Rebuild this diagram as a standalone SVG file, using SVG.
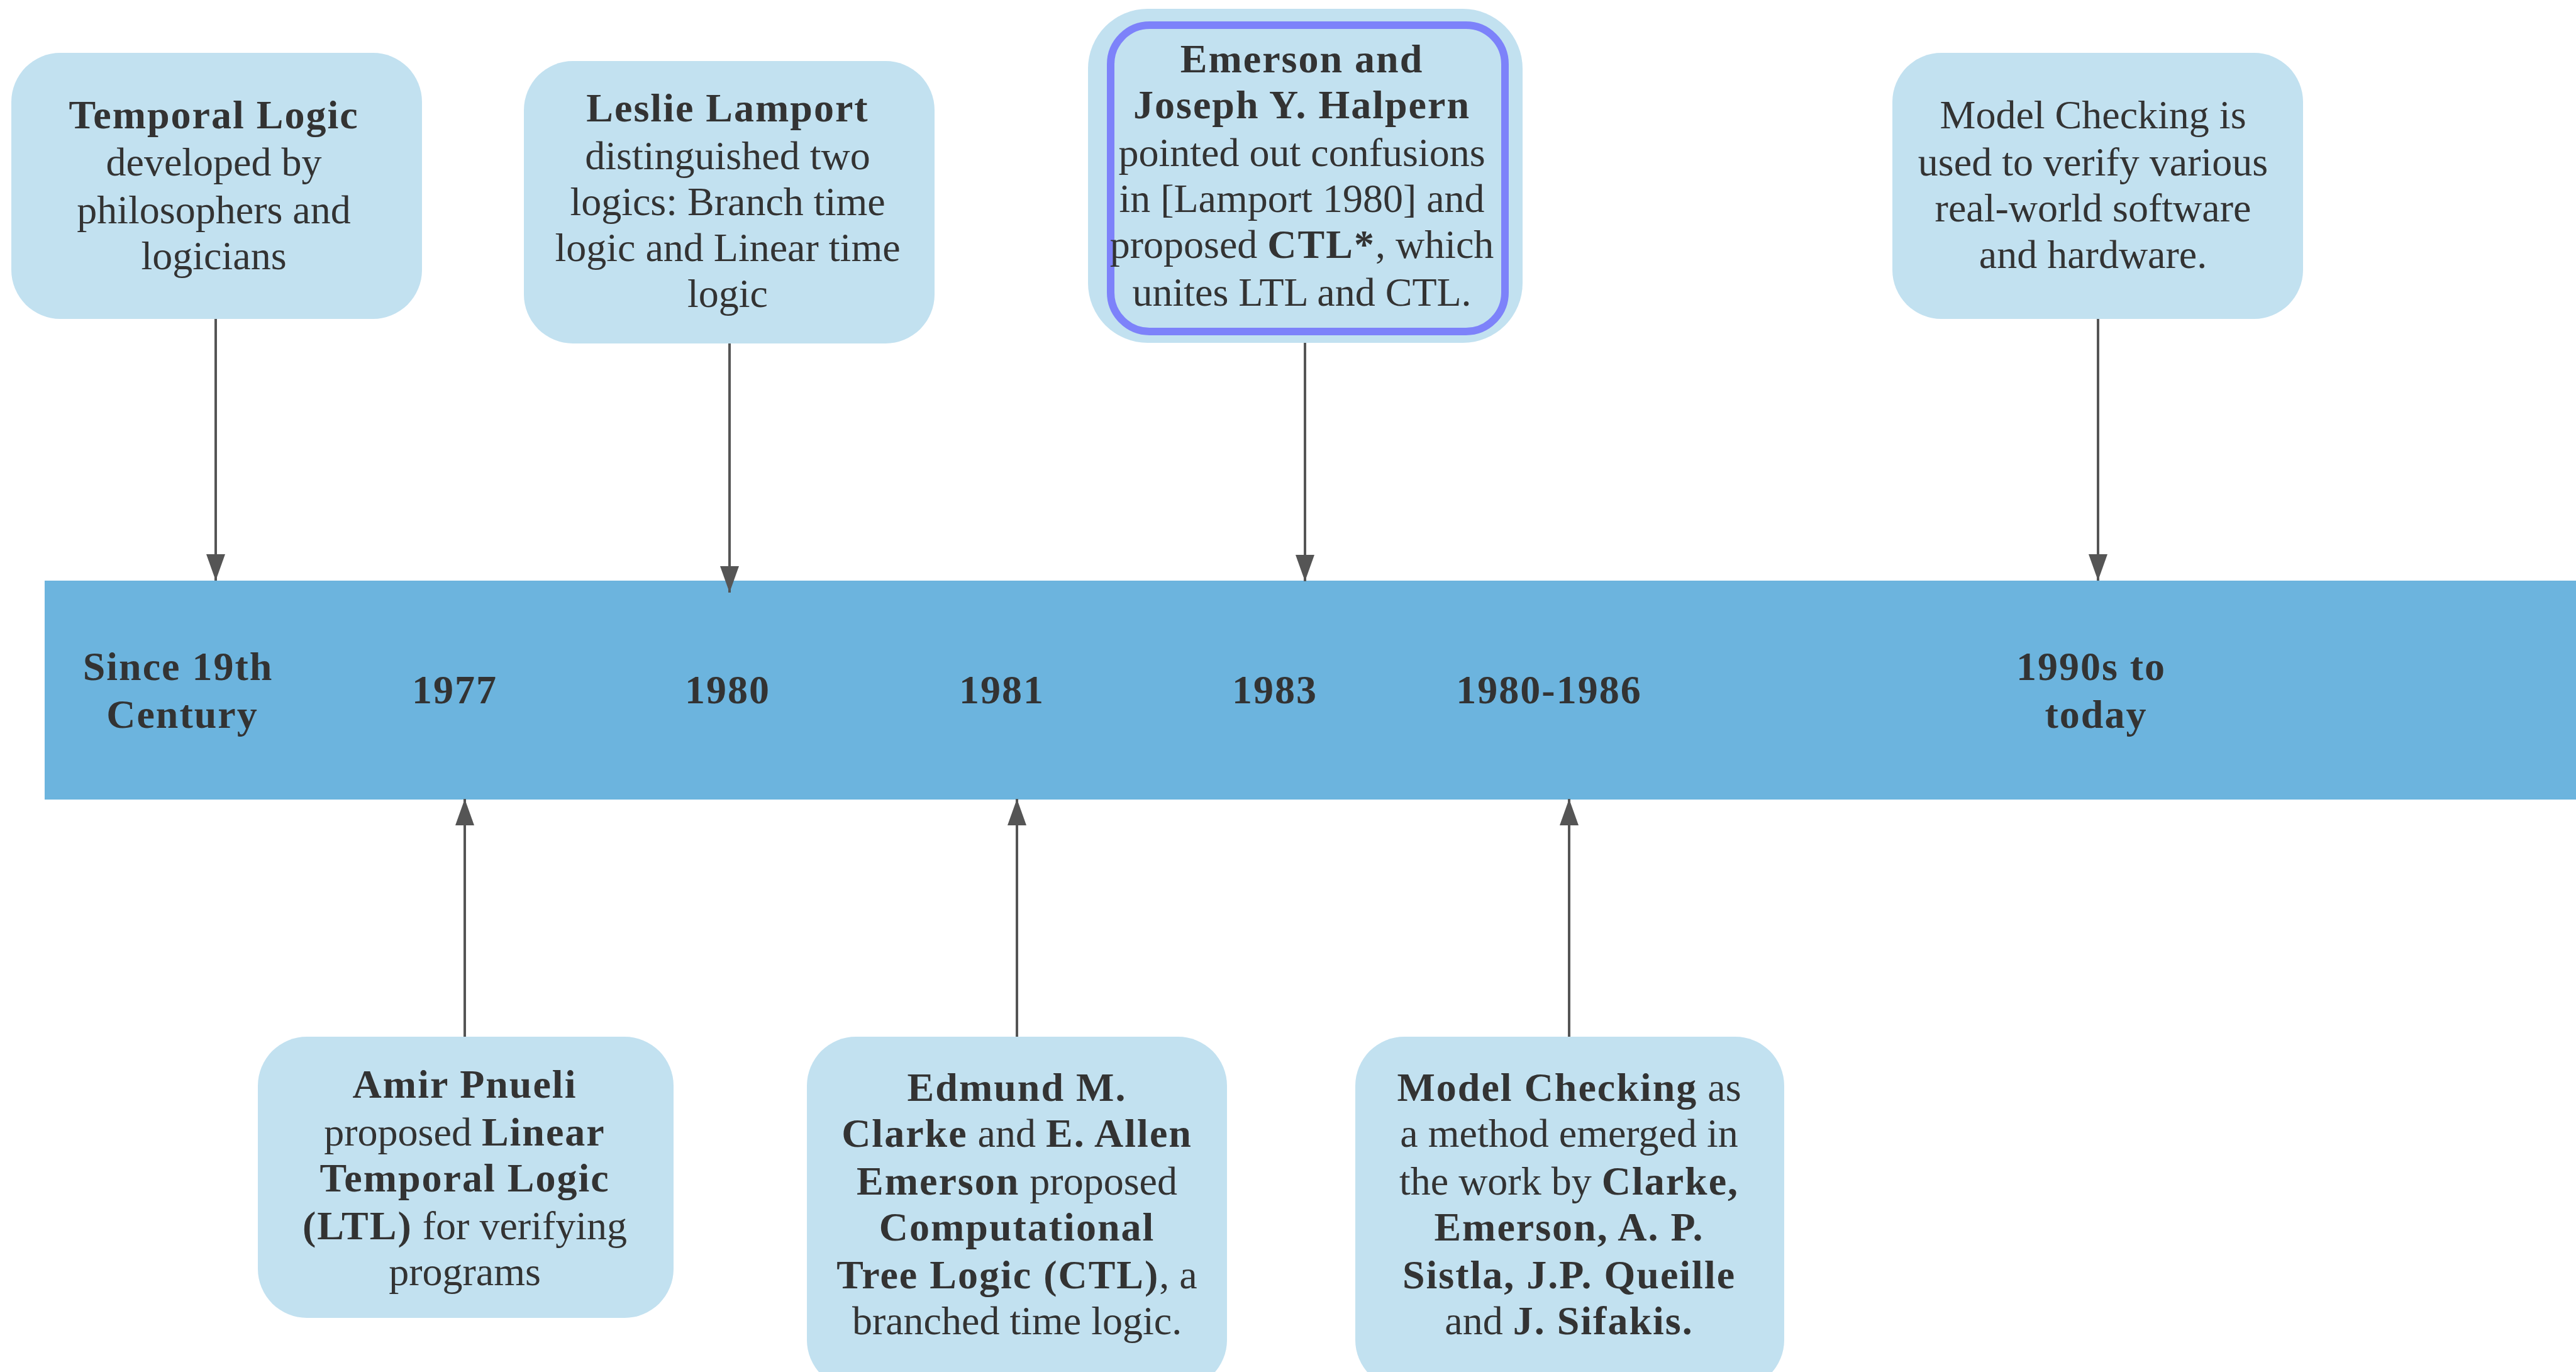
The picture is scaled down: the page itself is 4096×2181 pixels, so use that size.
<svg xmlns="http://www.w3.org/2000/svg" width="4096" height="2181" viewBox="0 0 4096 2181">
<defs>
<style>
.box{fill:#c2e1f0;}
.t{font-family:"Liberation Serif","Times New Roman",serif;font-size:64px;fill:#333;text-anchor:middle;}
.b{font-weight:bold;letter-spacing:2px;}
.conn{stroke:#555;stroke-width:4;fill:none;}
</style>
<marker id="ah" markerUnits="userSpaceOnUse" markerWidth="44" markerHeight="32" refX="42" refY="15" orient="auto">
<path d="M0,0 L42,15 L0,30 z" fill="#555"/>
</marker>
</defs>
<rect width="4096" height="2181" fill="#ffffff"/>
<g id="timeline">
<rect x="71" y="923" width="4025" height="348" fill="#6cb4de"/>
<text class="t b" x="283" y="1081">Since 19th</text>
<text class="t b" x="290" y="1157">Century</text>
<text class="t b" x="723" y="1118">1977</text>
<text class="t b" x="1157" y="1118">1980</text>
<text class="t b" x="1593" y="1118">1981</text>
<text class="t b" x="2027" y="1118">1983</text>
<text class="t b" x="2463" y="1118">1980-1986</text>
<text class="t b" x="3325" y="1081">1990s to</text>
<text class="t b" x="3333" y="1157">today</text>
</g>
<g id="connectors">
<line class="conn" x1="343" y1="507" x2="343" y2="923" marker-end="url(#ah)"/>
<line class="conn" x1="1160" y1="546" x2="1160" y2="942" marker-end="url(#ah)"/>
<line class="conn" x1="2075" y1="545" x2="2075" y2="924" marker-end="url(#ah)"/>
<line class="conn" x1="3336" y1="507" x2="3336" y2="923" marker-end="url(#ah)"/>
<line class="conn" x1="739" y1="1648" x2="739" y2="1270" marker-end="url(#ah)"/>
<line class="conn" x1="1617" y1="1648" x2="1617" y2="1270" marker-end="url(#ah)"/>
<line class="conn" x1="2495" y1="1648" x2="2495" y2="1270" marker-end="url(#ah)"/>
</g>
<g id="node-temporal-logic">
<rect class="box" x="18" y="84" width="653" height="423" rx="78"/>
<text class="t" x="340" y="204"><tspan class="b">Temporal Logic</tspan></text>
<text class="t" x="340" y="279">developed by</text>
<text class="t" x="340" y="355">philosophers and</text>
<text class="t" x="340" y="428">logicians</text>
</g>
<g id="node-lamport">
<rect class="box" x="833" y="97" width="653" height="449" rx="78"/>
<text class="t" x="1157" y="193"><tspan class="b">Leslie Lamport</tspan></text>
<text class="t" x="1157" y="269">distinguished two</text>
<text class="t" x="1157" y="342">logics: Branch time</text>
<text class="t" x="1157" y="415">logic and Linear time</text>
<text class="t" x="1157" y="488">logic</text>
</g>
<g id="node-halpern">
<rect class="box" x="1730" y="14" width="691" height="531" rx="95"/>
<rect x="1766" y="40" width="627" height="487" rx="62" fill="none" stroke="#7d82fa" stroke-width="12"/>
<text class="t" x="2070" y="115"><tspan class="b">Emerson and</tspan></text>
<text class="t" x="2070" y="188"><tspan class="b">Joseph Y. Halpern</tspan></text>
<text class="t" x="2070" y="264">pointed out confusions</text>
<text class="t" x="2070" y="337">in [Lamport 1980] and</text>
<text class="t" x="2070" y="410">proposed <tspan class="b">CTL*</tspan>, which</text>
<text class="t" x="2070" y="486">unites LTL and CTL.</text>
</g>
<g id="node-model-checking-today">
<rect class="box" x="3009" y="84" width="653" height="423" rx="78"/>
<text class="t" x="3328" y="204">Model Checking is</text>
<text class="t" x="3328" y="279">used to verify various</text>
<text class="t" x="3328" y="352">real-world software</text>
<text class="t" x="3328" y="426">and hardware.</text>
</g>
<g id="node-pnueli">
<rect class="box" x="410" y="1648" width="661" height="447" rx="78"/>
<text class="t" x="739" y="1745"><tspan class="b">Amir Pnueli</tspan></text>
<text class="t" x="739" y="1821">proposed <tspan class="b">Linear</tspan></text>
<text class="t" x="739" y="1894"><tspan class="b">Temporal Logic</tspan></text>
<text class="t" x="739" y="1970"><tspan class="b">(LTL)</tspan> for verifying</text>
<text class="t" x="739" y="2043">programs</text>
</g>
<g id="node-clarke-emerson">
<rect class="box" x="1283" y="1648" width="668" height="560" rx="78"/>
<text class="t" x="1617" y="1750"><tspan class="b">Edmund M.</tspan></text>
<text class="t" x="1617" y="1823"><tspan class="b">Clarke</tspan> and <tspan class="b">E. Allen</tspan></text>
<text class="t" x="1617" y="1899"><tspan class="b">Emerson</tspan> proposed</text>
<text class="t" x="1617" y="1972"><tspan class="b">Computational</tspan></text>
<text class="t" x="1617" y="2048"><tspan class="b">Tree Logic (CTL)</tspan>, a</text>
<text class="t" x="1617" y="2121">branched time logic.</text>
</g>
<g id="node-model-checking-method">
<rect class="box" x="2155" y="1648" width="682" height="560" rx="78"/>
<text class="t" x="2495" y="1750"><tspan class="b">Model Checking</tspan> as</text>
<text class="t" x="2495" y="1823">a method emerged in</text>
<text class="t" x="2495" y="1899">the work by <tspan class="b">Clarke,</tspan></text>
<text class="t" x="2495" y="1972"><tspan class="b">Emerson, A. P.</tspan></text>
<text class="t" x="2495" y="2048"><tspan class="b">Sistla, J.P. Queille</tspan></text>
<text class="t" x="2495" y="2121">and <tspan class="b">J. Sifakis.</tspan></text>
</g>
</svg>
